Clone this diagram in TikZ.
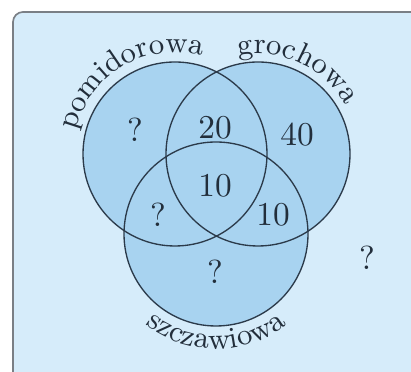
\documentclass[tikz,border=0pt]{standalone}
\usepackage{tikz}
\usetikzlibrary{decorations.text}

\definecolor{panelblue}{HTML}{D6ECFA}
\definecolor{setblue}{HTML}{A8D3F0}
\definecolor{rimgrey}{HTML}{7A7F85}
\definecolor{inkline}{HTML}{2B3A4A}

\begin{document}
\begin{tikzpicture}[
  x=0.3pt, y=-0.3pt,
  setc/.style={circle, draw=inkline, line width=0.4pt, minimum size=55.2pt, inner sep=0pt},
  num/.style={font=\fontsize{10}{12}\selectfont, text=inkline!80!black},
  arclabel/.style={decorate, decoration={text along path, text align=center,
                   text={|\fontsize{9}{11}\selectfont\color{inkline!80!black}|#1}}}
]
\useasboundingbox (0,0) rectangle (411,372);
% panel
\fill[white] (0,0) rectangle (411,372);
\draw[rimgrey, line width=0.5pt, fill=panelblue, rounded corners=3pt] (13,12) rectangle (430,385);

% sets
\coordinate (pc) at (175,154);
\coordinate (gc) at (258,154);
\coordinate (sc) at (216,234);
\fill[setblue] (pc) circle[radius=27.6pt] (gc) circle[radius=27.6pt] (sc) circle[radius=27.6pt];
\node[setc] (pomid) at (pc) {};
\node[setc] (groch) at (gc) {};
\node[setc] (szcz)  at (sc) {};

% labels on arcs
\path[arclabel={pomidorowa}] ([shift={(166:30.5pt)}]pc) arc[start angle=166, end angle=75, radius=30.5pt];
\path[arclabel={grochowa}]   ([shift={(104:30pt)}]gc) arc[start angle=104, end angle=26, radius=30pt];
\path[arclabel={szczawiowa}] ([shift={(232:34.5pt)}]sc) arc[start angle=232, end angle=308, radius=34.5pt];

% counts
\node[num] (onlyp)  at (135,130) {?};
\node[num] (pg)     at (215,128) {20};
\node[num] (onlyg)  at (297,135) {40};
\node[num] (pgs)    at (215,186) {10};
\node[num] (ps)     at (158,215) {?};
\node[num] (gs)     at (273,215) {10};
\node[num] (onlys)  at (215,272) {?};
\node[num] (none)   at (367,258) {?};
\end{tikzpicture}
\end{document}
